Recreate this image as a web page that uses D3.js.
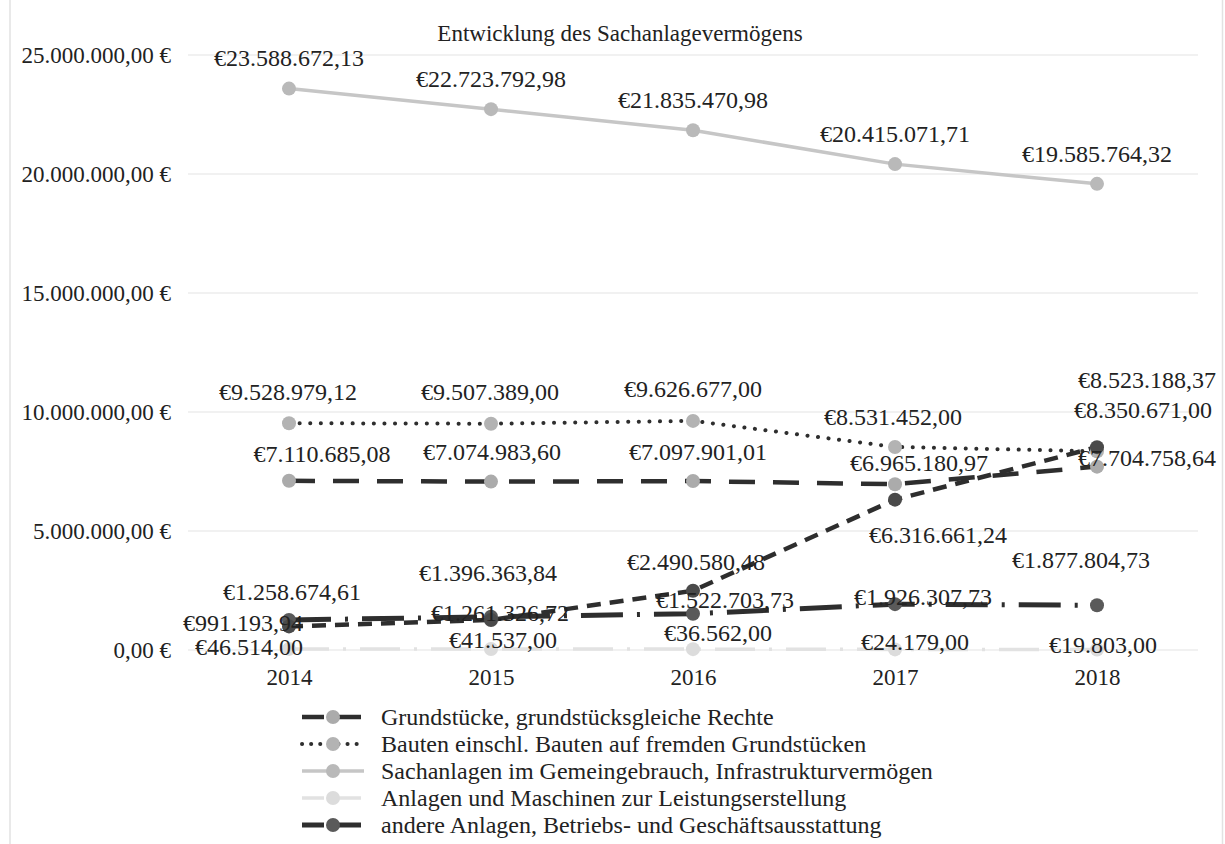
<!DOCTYPE html>
<html>
<head>
<meta charset="utf-8">
<script src="https://cdn.jsdelivr.net/npm/d3@7"></script>
<style>
  html, body { margin: 0; padding: 0; background: #fff; }
  svg { display: block; }
  text { font-family: "Liberation Serif", "Times New Roman", serif; fill: #222; }
</style>
</head>
<body>
<svg id="chart" width="1225" height="844"></svg>
<script>
// ---- data ----
const years = ["2014", "2015", "2016", "2017", "2018"];
const yTicks = [0, 5e6, 10e6, 15e6, 20e6, 25e6];

const grundstuecke = [7110685.08, 7074983.60, 7097901.01, 6965180.97, 7704758.64];
const bauten = [9528979.12, 9507389.00, 9626677.00, 8531452.00, 8350671.00];
const gemeingebrauch = [23588672.13, 22723792.98, 21835470.98, 20415071.71, 19585764.32];
const maschinen = [46514.00, 41537.00, 36562.00, 24179.00, 19803.00];
const betriebsausstattung = [1258674.61, 1396363.84, 1522703.73, 1926307.73, 1877804.73];
const anlagenImBau = [991193.94, 1261326.72, 2490580.48, 6316661.24, 8523188.37];

const legendNames = [
  "Grundstücke, grundstücksgleiche Rechte",
  "Bauten einschl. Bauten auf fremden Grundstücken",
  "Sachanlagen im Gemeingebrauch, Infrastrukturvermögen",
  "Anlagen und Maschinen zur Leistungserstellung",
  "andere Anlagen, Betriebs- und Geschäftsausstattung"
];

// ---- styling and label placement (offsets of each label centre from its point) ----
const series = [
  { values: gemeingebrauch, legend: 2, stroke: "#c6c6c6", width: 3.5, dash: null, marker: "#b9b9b9",
    offsets: [[0, -31], [0, -30], [0, -30], [0, -30], [0, -30]] },
  { values: grundstuecke, legend: 0, stroke: "#2e2e2e", width: 4.5, dash: "26 18", marker: "#ababab",
    offsets: [[33, -27], [1, -30], [5, -29], [24, -21], [50, -9]] },
  { values: bauten, legend: 1, stroke: "#2e2e2e", width: 4, dash: "0.1 10.5", cap: "round", marker: "#b3b3b3",
    offsets: [[-1, -31], [-1, -32], [0, -32], [-2, -30], [46, -41]] },
  { values: maschinen, legend: 3, stroke: "#e2e2e2", width: 3.5, dash: "40 14 3 14", marker: "#dcdcdc",
    offsets: [[-40, -2], [12, -9], [25, -16], [20, -7], [6, -5]] },
  { values: betriebsausstattung, legend: 4, stroke: "#2e2e2e", width: 5, dash: "42 14 3 14", marker: "#5a5a5a",
    offsets: [[3, -28], [-3, -44], [32, -14], [28, -7], [-16, -45]] },
  { values: anlagenImBau, legend: null, stroke: "#2e2e2e", width: 4.5, dash: "14 9", marker: "#4a4a4a",
    offsets: [[-46, -3], [9, -7], [3, -29], [43, 35], [50, -67]] }
];

const axisLocale = d3.formatLocale({ decimal: ",", thousands: ".", grouping: [3], currency: ["", " €"] });
const labelLocale = d3.formatLocale({ decimal: ",", thousands: ".", grouping: [3], currency: ["€", ""] });
const fmtAxis = axisLocale.format("$,.2f");
const fmtLabel = labelLocale.format("$,.2f");

const svg = d3.select("#chart");

const x = d3.scalePoint().domain(years).range([188, 1198]).padding(0.5);
const y = d3.scaleLinear().domain([0, 25e6]).range([650, 55]);

// chart frame edges
svg.append("line").attr("x1", 10).attr("x2", 10).attr("y1", 0).attr("y2", 844)
  .attr("stroke", "#e2e2e2").attr("stroke-width", 1.5);
svg.append("line").attr("x1", 1222.5).attr("x2", 1222.5).attr("y1", 0).attr("y2", 844)
  .attr("stroke", "#e2e2e2").attr("stroke-width", 1.5);

// title
svg.append("text").attr("x", 620).attr("y", 41).attr("text-anchor", "middle")
  .style("font-size", "23px").text("Entwicklung des Sachanlagevermögens");

// gridlines
svg.append("g").selectAll("line").data(yTicks).join("line")
  .attr("x1", 188).attr("x2", 1198)
  .attr("y1", d => y(d)).attr("y2", d => y(d))
  .attr("stroke", "#ededed").attr("stroke-width", 1.5);

// y axis
const yAxis = d3.axisLeft(y).tickValues(yTicks).tickFormat(fmtAxis).tickSize(0).tickPadding(0);
const gy = svg.append("g").attr("transform", "translate(171,0)").call(yAxis);
gy.select(".domain").remove();
gy.selectAll("text").style("font-size", "23px").style("font-family", "\"Liberation Serif\", serif").attr("fill", "#222");

// x axis
const xAxis = d3.axisBottom(x).tickSize(0).tickPadding(0);
const gx = svg.append("g").attr("transform", "translate(0,669)").call(xAxis);
gx.select(".domain").remove();
gx.selectAll("text").style("font-size", "23px").style("font-family", "\"Liberation Serif\", serif").attr("fill", "#222");

// lines
const line = d3.line().x((d, i) => x(years[i])).y(d => y(d));
const gLines = svg.append("g");
series.forEach(s => {
  gLines.append("path").datum(s.values)
    .attr("d", line).attr("fill", "none")
    .attr("stroke", s.stroke).attr("stroke-width", s.width)
    .attr("stroke-dasharray", s.dash)
    .attr("stroke-linecap", s.cap || "butt");
});

// markers
series.forEach(s => {
  svg.append("g").selectAll("circle").data(s.values).join("circle")
    .attr("cx", (d, i) => x(years[i])).attr("cy", d => y(d)).attr("r", 7)
    .attr("fill", s.marker);
});

// data labels
series.forEach(s => {
  svg.append("g").selectAll("text").data(s.values).join("text")
    .attr("x", (d, i) => x(years[i]) + s.offsets[i][0])
    .attr("y", (d, i) => y(d) + s.offsets[i][1])
    .attr("text-anchor", "middle").attr("dominant-baseline", "central")
    .style("font-size", "24px")
    .text(d => fmtLabel(d));
});

// legend
const legendRows = [0, 1, 2, 3, 4].map(k => series.find(s => s.legend === k));
const gLeg = svg.append("g");
legendRows.forEach((s, k) => {
  const ly = 717 + k * 27;
  gLeg.append("line").attr("x1", 302).attr("x2", 364).attr("y1", ly).attr("y2", ly)
    .attr("stroke", s.stroke).attr("stroke-width", s.width)
    .attr("stroke-dasharray", s.dash ? (s.cap ? "0.1 9" : "22 6 3 6") : null)
    .attr("stroke-linecap", s.cap || "butt");
  gLeg.append("circle").attr("cx", 333).attr("cy", ly).attr("r", 7).attr("fill", s.marker);
  gLeg.append("text").attr("x", 381).attr("y", ly).attr("dominant-baseline", "central")
    .style("font-size", "24px").text(legendNames[k]);
});
</script>
</body>
</html>
